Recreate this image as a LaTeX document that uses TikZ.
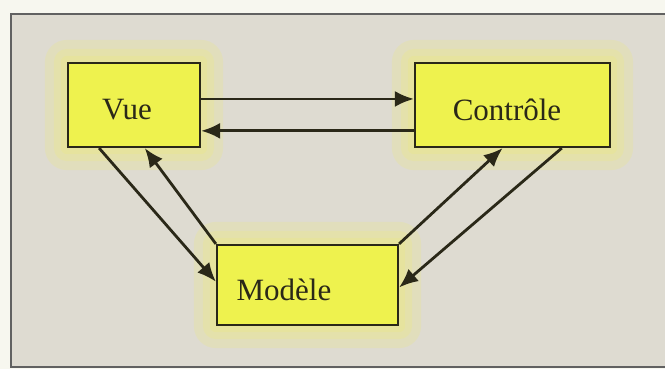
\documentclass[tikz,border=0pt]{standalone}
\usepackage{fontspec}
\setmainfont{Liberation Serif}
\usetikzlibrary{arrows.meta,calc}
\definecolor{bg}{HTML}{DEDBD1}
\definecolor{paper}{HTML}{F7F7EF}
\definecolor{boxy}{HTML}{EEF24E}
\definecolor{glowy}{HTML}{F0EE6A}
\definecolor{ink}{HTML}{2A2818}
\begin{document}
\begin{tikzpicture}[x=1pt,y=-1pt,
  box/.style={draw=ink,line width=2.2pt,fill=boxy,minimum height=84pt,inner sep=0pt},
  lab/.style={font=\fontsize{31}{31}\selectfont,text=ink,inner sep=0pt},
  arr/.style={draw=ink,line width=2.8pt,-{Latex[length=19pt,width=16pt]}},
  frameline/.style={draw=black!62,line width=1.6pt},
  glow/.style={fill=glowy,opacity=0.2}]
\useasboundingbox (0,0) rectangle (665,369);
\fill[paper] (0,0) rectangle (665,369);
\fill[bg] (11,14) rectangle (665,367);
% boxes (placed first to define anchors)
\node[box,minimum width=132pt] (vue) at (134,105) {};
\node[box,minimum width=195pt] (ctrl) at (512.5,105) {};
\node[box,minimum width=181pt,minimum height=80pt] (mod) at (307.5,285) {};
% glow round the boxes
\foreach \n in {vue,ctrl,mod}{
  \foreach \d in {6,13,22}{
    \fill[glow,rounded corners=\d pt] ([xshift=-\d pt,yshift=-\d pt]\n.south west) rectangle ([xshift=\d pt,yshift=\d pt]\n.north east);
  }
}
% boxes redrawn on top of the glow
\node[box,minimum width=132pt] at (vue.center) {};
\node[box,minimum width=195pt] at (ctrl.center) {};
\node[box,minimum width=181pt,minimum height=80pt] at (mod.center) {};
% labels
\node[lab] (vuet) at (127,110) {Vue};
\node[lab] (ctrlt) at (507,110) {Contrôle};
\node[lab] (modt) at (284,290) {Modèle};
% frame
\draw[frameline] (665,14) -- (11,14) -- (11,367) -- (665,367);
% connectors
\draw[arr] ($(vue.north east)!0.43!(vue.south east)$) -- ($(ctrl.north west)!0.43!(ctrl.south west)$);
\draw[arr] ($(ctrl.north west)!0.80!(ctrl.south west)$) -- ($(vue.north east)!0.80!(vue.south east)$);
\draw[arr] ($(vue.south west)!0.24!(vue.south east)$) -- ($(mod.north west)!0.46!(mod.south west)$);
\draw[arr] (mod.north west) -- ($(vue.south west)!0.58!(vue.south east)$);
\draw[arr] (mod.north east) -- ($(ctrl.south west)!0.45!(ctrl.south east)$);
\draw[arr] ($(ctrl.south west)!0.75!(ctrl.south east)$) -- ($(mod.north east)!0.53!(mod.south east)$);
\end{tikzpicture}
\end{document}
